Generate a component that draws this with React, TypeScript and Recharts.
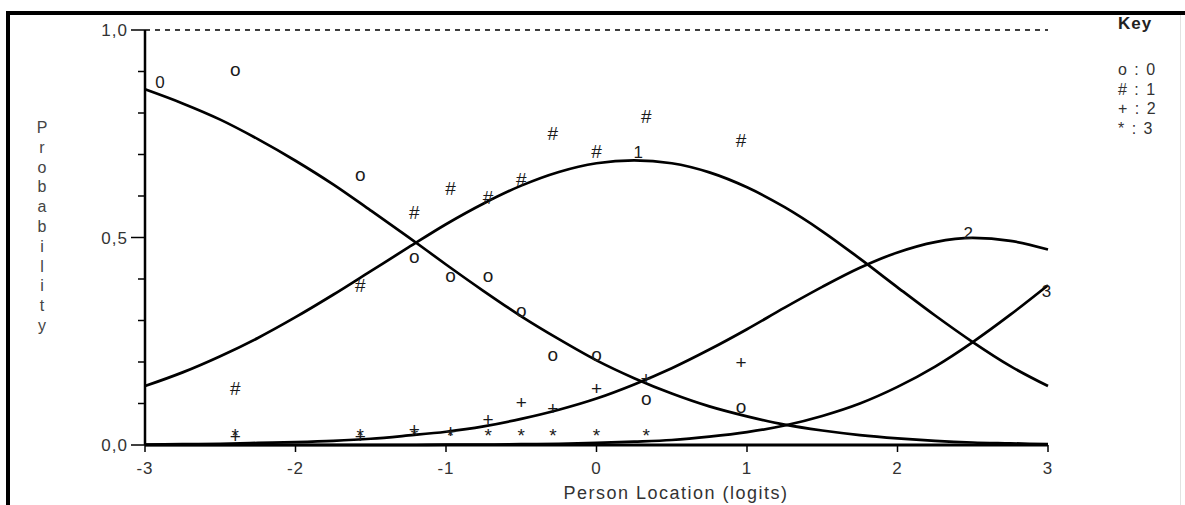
import React from 'react';
import { ComposedChart, Line, Scatter, XAxis, YAxis, ReferenceLine } from 'recharts';

// person locations (logits) where the category curves were read
const locations = [-3, -2.75, -2.5, -2.25, -2, -1.75, -1.5, -1.25, -1, -0.75, -0.5, -0.25, 0, 0.25, 0.5, 0.75, 1, 1.25, 1.5, 1.75, 2, 2.25, 2.5, 2.75, 3];
const curve0 = [0.857, 0.823, 0.784, 0.737, 0.685, 0.628, 0.565, 0.501, 0.435, 0.371, 0.31, 0.255, 0.204, 0.161, 0.124, 0.093, 0.069, 0.049, 0.035, 0.024, 0.016, 0.01, 0.006, 0.004, 0.002];
const curve1 = [0.142, 0.175, 0.214, 0.258, 0.308, 0.362, 0.419, 0.476, 0.532, 0.582, 0.625, 0.658, 0.679, 0.686, 0.679, 0.657, 0.621, 0.573, 0.515, 0.449, 0.38, 0.312, 0.248, 0.19, 0.142];
const curve2 = [0.001, 0.002, 0.003, 0.005, 0.007, 0.01, 0.015, 0.023, 0.032, 0.045, 0.063, 0.085, 0.112, 0.146, 0.185, 0.23, 0.279, 0.331, 0.381, 0.427, 0.464, 0.489, 0.499, 0.492, 0.471];
const curve3 = [0, 0, 0, 0, 0, 0, 0, 0, 0.001, 0.001, 0.002, 0.003, 0.005, 0.008, 0.012, 0.02, 0.031, 0.047, 0.07, 0.1, 0.14, 0.189, 0.248, 0.314, 0.385];

// class intervals, observed proportions per category
const classX = [-2.4, -1.57, -1.21, -0.97, -0.72, -0.5, -0.29, 0, 0.33, 0.96];
const observed0 = [0.9, 0.647, 0.451, 0.404, 0.404, 0.32, 0.215, 0.215, 0.108, 0.088];
const observed1 = [0.137, 0.384, 0.56, 0.619, 0.596, 0.639, 0.751, 0.707, 0.793, 0.735];
const observed2 = [0.022, 0.022, 0.038, 0.034, 0.062, 0.102, 0.088, 0.137, 0.16, 0.2];
const observed3 = [0.034, 0.034, 0.034, 0.034, 0.034, 0.034, 0.034, 0.034, 0.034, null];

const symbols = ['o', '#', '+', '*'];
const keyLabels = ['0', '1', '2', '3'];

const curveLabelX = [-2.9, 0.278, 2.47, 2.99];
const curveLabelY = [0.875, 0.707, 0.512, 0.372];
const curveLabelText = ['0', '1', '2', '3'];

const xTicks = [-3, -2, -1, 0, 1, 2, 3];
const yTicks = [0, 0.1, 0.2, 0.3, 0.4, 0.5, 0.6, 0.7, 0.8, 0.9, 1];
const yTitle = 'Probability';

const chartData = locations.map((x, i) => ({
  x,
  p0: curve0[i],
  p1: curve1[i],
  p2: curve2[i],
  p3: curve3[i],
}));

const observedSets = [observed0, observed1, observed2, observed3].map((ys) =>
  classX
    .map((x, i) => ({ x, y: ys[i] }))
    .filter((d) => d.y !== null)
);

const curveLabels = curveLabelX.map((x, i) => ({ x, y: curveLabelY[i], label: curveLabelText[i] }));

const FONT = '"Liberation Sans", Arial, sans-serif';
const MARK_SIZE = 19;
// how far above the baseline each glyph's middle sits, in em
const LIFT: Record<string, number> = { o: 0.26, '#': 0.35, '+': 0.35, '*': 0.58 };

const glyph = (sym: string) => (props: any) => (
  <text
    x={props.cx}
    y={props.cy + LIFT[sym] * MARK_SIZE}
    textAnchor="middle"
    fontFamily={FONT}
    fontSize={MARK_SIZE}
    fill="#1a1a1a"
  >
    {sym}
  </text>
);

const curveLabel = (props: any) => (
  <text
    x={props.cx}
    y={props.cy + 0.36 * 17}
    textAnchor="middle"
    fontFamily={FONT}
    fontSize={17}
    fill="#1a1a1a"
  >
    {props.payload.label}
  </text>
);

const YTick = (props: any) => {
  const { x, y, payload } = props;
  const v = payload.value;
  const major = Math.abs(v * 2 - Math.round(v * 2)) < 1e-6;
  const len = major ? 14 : 7;
  return (
    <g>
      <line x1={x - len} x2={x} y1={y} y2={y} stroke="#000" strokeWidth={1.5} />
      {major && (
        <text
          x={x - len - 3}
          y={y + 6}
          textAnchor="end"
          fontFamily={FONT}
          fontSize={17}
          letterSpacing={1}
          fill="#333"
        >
          {v.toFixed(1).replace('.', ',')}
        </text>
      )}
    </g>
  );
};

const XTick = (props: any) => {
  const { x, y, payload } = props;
  return (
    <g>
      <line x1={x} x2={x} y1={y} y2={y + 7} stroke="#000" strokeWidth={1.5} />
      <text
        x={x}
        y={y + 29}
        textAnchor="middle"
        fontFamily={FONT}
        fontSize={17}
        letterSpacing={1}
        fill="#333"
      >
        {payload.value}
      </text>
    </g>
  );
};

export default function App() {
  return (
    <div style={{ position: 'absolute', left: 0, top: 0, width: 1185, height: 505, background: '#fff', overflow: 'hidden' }}>
      <div
        style={{
          position: 'absolute',
          left: 6,
          top: 11,
          width: 1185,
          height: 505,
          borderTop: '4px solid #000',
          borderLeft: '4px solid #000',
        }}
      />
      <div style={{ position: 'absolute', left: 1180, top: 15, width: 1, height: 490, background: '#e2e2e2' }} />

      <div style={{ position: 'absolute', left: 0, top: 0 }}>
        <ComposedChart width={1185} height={505} data={chartData} margin={{ top: 30, right: 137, bottom: 0, left: 0 }}>
          <XAxis
            dataKey="x"
            type="number"
            domain={[-3, 3]}
            ticks={xTicks}
            tickLine={false}
            tickSize={0}
            tickMargin={0}
            tick={<XTick />}
            axisLine={{ stroke: '#000', strokeWidth: 3 }}
            height={60}
            label={{
              content: () => (
                <text x={676} y={499} textAnchor="middle" fontFamily={FONT} fontSize={18} letterSpacing={1.5} fill="#333">
                  Person Location (logits)
                </text>
              ),
            }}
          />
          <YAxis
            type="number"
            domain={[0, 1]}
            ticks={yTicks}
            tickLine={false}
            tickSize={0}
            tickMargin={0}
            tick={<YTick />}
            axisLine={{ stroke: '#000', strokeWidth: 2.5 }}
            width={145}
            label={{
              content: () => (
                <text fontFamily={FONT} fontSize={16} fill="#444" textAnchor="middle">
                  {yTitle.split('').map((c, i) => (
                    <tspan key={i} x={42} y={133 + i * 19.8}>
                      {c}
                    </tspan>
                  ))}
                </text>
              ),
            }}
          />
          <ReferenceLine y={1} stroke="#000" strokeWidth={1.5} strokeDasharray="5 5" />

          <Line dataKey="p0" type="monotone" stroke="#000" strokeWidth={2.7} dot={false} isAnimationActive={false} />
          <Line dataKey="p1" type="monotone" stroke="#000" strokeWidth={2.7} dot={false} isAnimationActive={false} />
          <Line dataKey="p2" type="monotone" stroke="#000" strokeWidth={2.7} dot={false} isAnimationActive={false} />
          <Line dataKey="p3" type="monotone" stroke="#000" strokeWidth={2.7} dot={false} isAnimationActive={false} />

          {observedSets.map((set, i) => (
            <Scatter key={symbols[i]} data={set} dataKey="y" shape={glyph(symbols[i])} isAnimationActive={false} />
          ))}
          <Scatter data={curveLabels} dataKey="y" shape={curveLabel} isAnimationActive={false} />
        </ComposedChart>
      </div>

      <div style={{ position: 'absolute', left: 1118, top: 14, fontFamily: FONT, fontSize: 17, fontWeight: 'bold', lineHeight: '19.7px', color: '#222', letterSpacing: 1 }}>
        Key
      </div>
      <div style={{ position: 'absolute', left: 1118, top: 60, fontFamily: FONT, fontSize: 16, lineHeight: '19.7px', color: '#333', letterSpacing: 1.5, whiteSpace: 'pre' }}>
        {symbols.map((s, i) => (
          <div key={s}>{`${s} : ${keyLabels[i]}`}</div>
        ))}
      </div>
    </div>
  );
}
